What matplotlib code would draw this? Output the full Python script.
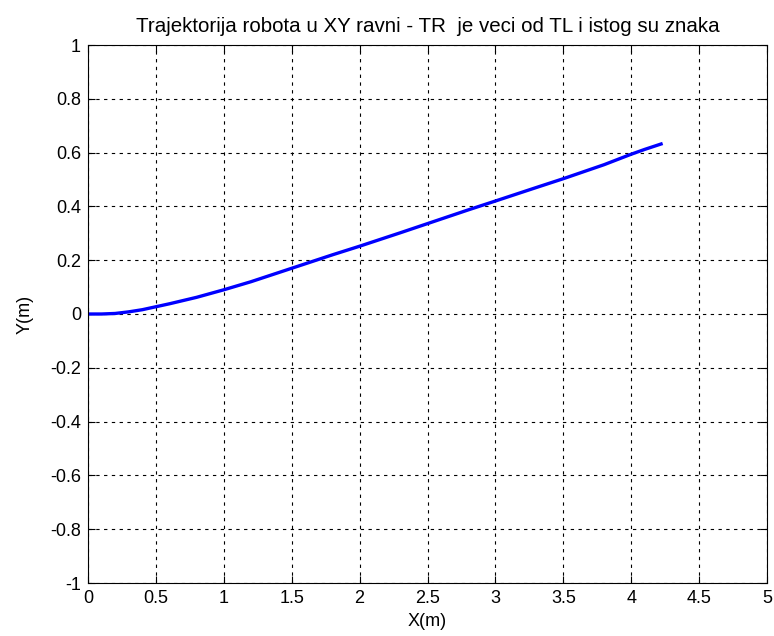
import matplotlib
matplotlib.use("Agg")
import matplotlib.pyplot as plt
from matplotlib import font_manager

names = {f.name for f in font_manager.fontManager.ttflist}
fam = ["Liberation Sans Narrow", "Liberation Sans", "DejaVu Sans"]
fam = [f for f in fam if f in names] or ["DejaVu Sans"]
plt.rcParams['font.family'] = fam

x_vals = [0.0, 0.1, 0.2, 0.3, 0.4, 0.5, 0.6, 0.8, 1.0, 1.2, 1.5, 1.8, 2.0, 2.3, 2.5, 2.8, 3.0, 3.3, 3.5, 3.8, 4.0, 4.1, 4.22]
y_vals = [0.0, 0.0, 0.002, 0.008, 0.016, 0.027, 0.038, 0.062, 0.090, 0.120, 0.170, 0.220, 0.252, 0.302, 0.336, 0.387, 0.420, 0.470, 0.503, 0.555, 0.594, 0.612, 0.632]
x_ticks = [0, 0.5, 1, 1.5, 2, 2.5, 3, 3.5, 4, 4.5, 5]
x_tick_labels = ["0", "0.5", "1", "1.5", "2", "2.5", "3", "3.5", "4", "4.5", "5"]
y_ticks = [-1, -0.8, -0.6, -0.4, -0.2, 0, 0.2, 0.4, 0.6, 0.8, 1]
y_tick_labels = ["-1", "-0.8", "-0.6", "-0.4", "-0.2", "0", "0.2", "0.4", "0.6", "0.8", "1"]
title = "Trajektorija robota u XY ravni - TR  je veci od TL i istog su znaka"

fig = plt.figure(figsize=(7.74, 6.36), dpi=100)
ax = fig.add_axes([88/774, 1-583/636, (767-88)/774, (583-45)/636])
ax.plot(x_vals, y_vals, color="#0000ff", lw=2.4)
ax.set_xlim(0, 5)
ax.set_ylim(-1, 1)
ax.set_xticks(x_ticks)
ax.set_xticklabels(x_tick_labels)
ax.set_yticks(y_ticks)
ax.set_yticklabels(y_tick_labels)
ax.tick_params(direction="in", top=True, right=True, length=5, labelsize=13, width=0.8, pad=5)
ax.grid(True, color="black", linestyle=(0, (3, 4)), linewidth=0.8)
for s in ax.spines.values():
    s.set_linewidth(0.8)
ax.set_xlabel("X(m)", fontsize=13, labelpad=4)
ax.set_ylabel("Y(m)", fontsize=13, labelpad=12)
fig.text(427.5/774, 1 - 32/636, title, fontsize=14.8, ha="center", va="baseline")
fig.savefig("out.png", dpi=100)
